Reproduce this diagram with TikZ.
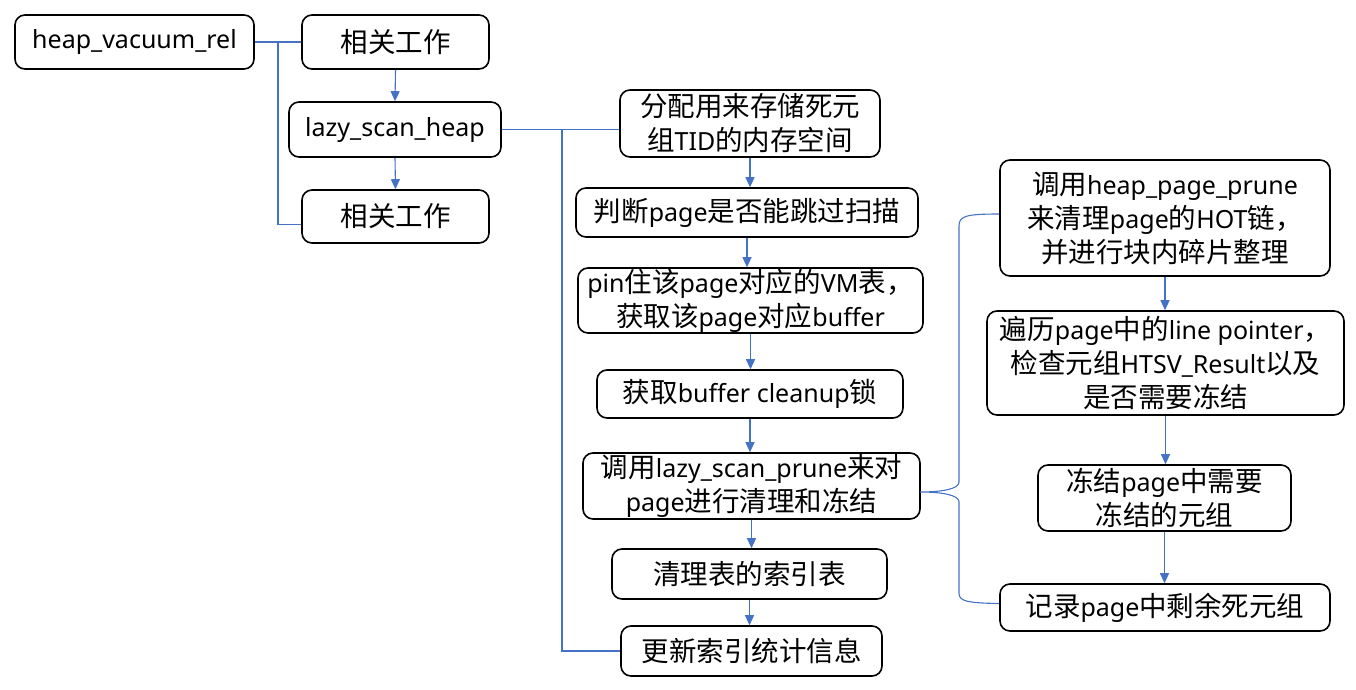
\documentclass[tikz,border=0pt]{standalone}
\usepackage{fontspec}
\setmainfont{Noto Sans}
\newfontfamily\cjkfont[Scale=1.1]{Noto Sans CJK SC}
\usepackage{xcolor}
\usetikzlibrary{positioning,calc,arrows.meta}
\definecolor{linkblue}{HTML}{4472C4}

% switch to the CJK face for runs of Chinese characters
\XeTeXinterchartokenstate=1
\newXeTeXintercharclass\cjkclass
\newcount\cjkidx
\cjkidx="3000
\loop \XeTeXcharclass\cjkidx=\cjkclass \advance\cjkidx 1 \ifnum\cjkidx<"3040 \repeat
\cjkidx="4E00
\loop \XeTeXcharclass\cjkidx=\cjkclass \advance\cjkidx 1 \ifnum\cjkidx<"A000 \repeat
\cjkidx="FF00
\loop \XeTeXcharclass\cjkidx=\cjkclass \advance\cjkidx 1 \ifnum\cjkidx<"FFF0 \repeat
\XeTeXinterchartoks 0 \cjkclass = {\begingroup\cjkfont}
\XeTeXinterchartoks 4095 \cjkclass = {\begingroup\cjkfont}
\XeTeXinterchartoks \cjkclass 0 = {\endgroup}
\XeTeXinterchartoks \cjkclass 4095 = {\endgroup}

\tikzset{
  stepbox/.style={draw=black, line width=1.6pt, rounded corners=10pt, align=center,
    inner sep=0pt, font=\fontsize{25}{34}\selectfont},
  link/.style={draw=linkblue, line width=1.1pt},
  flow/.style={link, -{Triangle[length=10pt,width=9pt]}}
}

\begin{document}
\begin{tikzpicture}[x=1pt, y=-1pt]
        \useasboundingbox (0,0) rectangle (1356,690);

        % Left column
        \node [stepbox, minimum width=239pt, minimum height=54pt] (vacrel) at (134.5,42) {heap\_vacuum\_rel};
        \node [stepbox, minimum width=187pt, minimum height=54pt] (relA) at (395.5,42) {相关工作};
        \node [stepbox, minimum width=212pt, minimum height=55pt] (scanheap) at (395,129.5) {lazy\_scan\_heap};
        \node [stepbox, minimum width=187pt, minimum height=53pt] (relB) at (395.5,216.5) {相关工作};

        \coordinate (trunkA) at (278,42);
        \draw [link] (vacrel.east) -- (relA.west);
        \draw [link] (trunkA) |- ([yshift=-8pt]relB.west);
        \draw [flow] (relA.south) -- (scanheap.north);
        \draw [flow] (scanheap.south) -- (relB.north);

        % Middle column
        \node [stepbox, minimum width=260pt, minimum height=67pt] (allocdead) at (750,123.5) {分配用来存储死元\\组TID的内存空间};
        \node [stepbox, minimum width=342pt, minimum height=49pt] (skipchk) at (747,212.5) {判断page是否能跳过扫描};
        \node [stepbox, minimum width=345pt, minimum height=65pt] (pinvm) at (750.5,300.5) {pin住该page对应的VM表，\\获取该page对应buffer};
        \node [stepbox, minimum width=306pt, minimum height=48pt] (cleanlock) at (750,394) {获取buffer cleanup锁};
        \node [stepbox, minimum width=337pt, minimum height=66pt] (scanprune) at (751.5,486) {调用lazy\_scan\_prune来对\\page进行清理和冻结};
        \node [stepbox, minimum width=275pt, minimum height=50pt] (idxclean) at (749.5,574) {清理表的索引表};
        \node [stepbox, minimum width=261pt, minimum height=50pt] (idxstats) at (751.5,651) {更新索引统计信息};

        \coordinate (trunkB) at (562,129.5);
        \draw [link] (scanheap.east) -- (scanheap.east -| allocdead.west);
        \draw [link] (trunkB) |- (idxstats.west);
        \draw [flow] (allocdead.south) -- (allocdead.south |- skipchk.north);
        \draw [flow] (skipchk.south) -- (skipchk.south |- pinvm.north);
        \draw [flow] (pinvm.south) -- (pinvm.south |- cleanlock.north);
        \draw [flow] (cleanlock.south) -- (cleanlock.south |- scanprune.north);
        \draw [flow] (scanprune.south) -- (scanprune.south |- idxclean.north);
        \draw [flow] (idxclean.south) -- (idxclean.south |- idxstats.north);

        % Right column
        \node [stepbox, minimum width=330pt, minimum height=116pt] (pageprune) at (1165,218) {调用heap\_page\_prune\\来清理page的HOT链，\\并进行块内碎片整理};
        \node [stepbox, minimum width=357pt, minimum height=104pt] (lpscan) at (1165.5,363) {遍历page中的line pointer，\\检查元组HTSV\_Result以及\\是否需要冻结};
        \node [stepbox, minimum width=253pt, minimum height=66pt] (freezetup) at (1164.5,498) {冻结page中需要\\冻结的元组};
        \node [stepbox, minimum width=330pt, minimum height=47pt] (recdead) at (1165,607.5) {记录page中剩余死元组};

        \draw [flow] (pageprune.south) -- (pageprune.south |- lpscan.north);
        \draw [flow] (lpscan.south) -- (lpscan.south |- freezetup.north);
        \draw [flow] (freezetup.south) -- (freezetup.south |- recdead.north);

        % Brace from lazy_scan_prune
        \coordinate (bracetip) at (920,492);
        \draw [link] ([yshift=4pt]pageprune.west) .. controls (966,214) and (959,216) .. (959,226)
            -- (959,482) .. controls (959,489) and (942,492) .. (bracetip)
            .. controls (942,492) and (959,495) .. (959,502)
            -- (959,593) .. controls (959,601) and (966,603) .. ([yshift=4pt]recdead.west);
\end{tikzpicture}
\end{document}
